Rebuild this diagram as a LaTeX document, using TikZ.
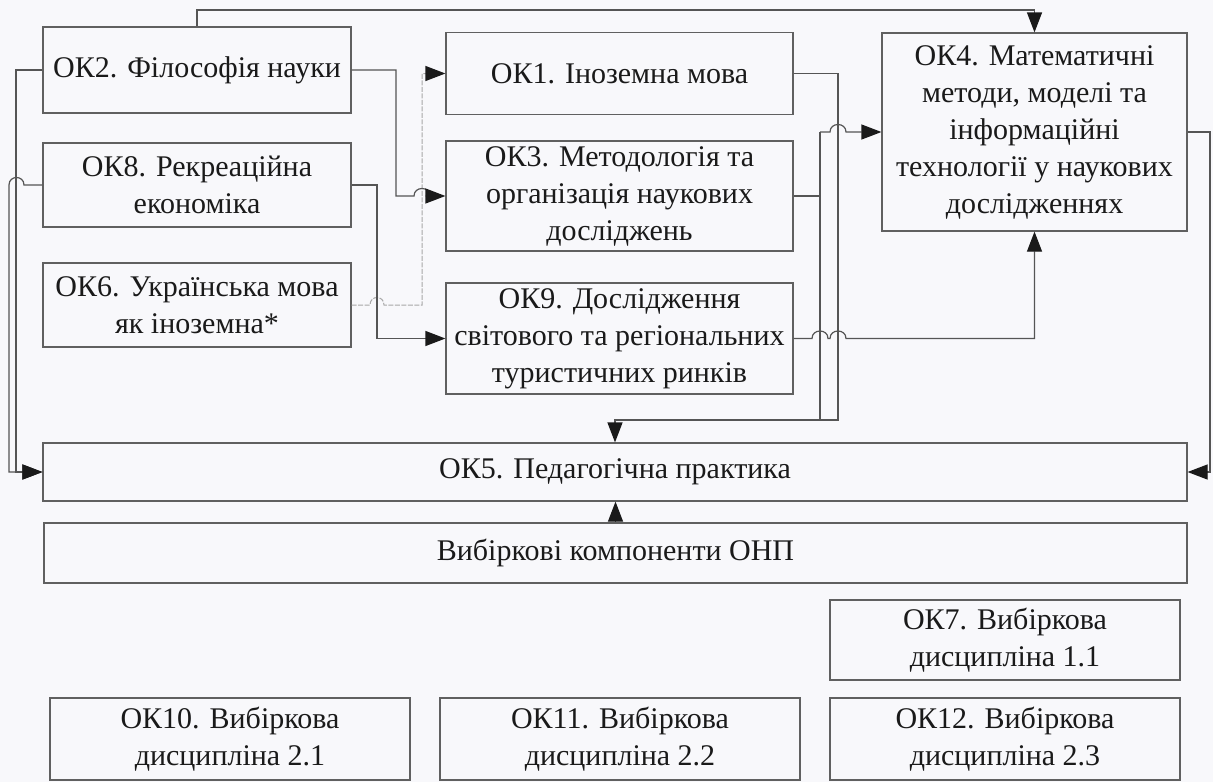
\documentclass[tikz,border=0pt]{standalone}
\usepackage{fontspec}
\setmainfont{Liberation Serif}
\usetikzlibrary{arrows.meta}
\definecolor{ln}{HTML}{555555}
\definecolor{bx}{HTML}{606060}
\definecolor{tx}{HTML}{1A1A1A}
\definecolor{bg}{HTML}{F8F8FB}
\definecolor{dl}{HTML}{A8A8A8}
\begin{document}
\begin{tikzpicture}[x=1pt,y=-1pt,
  box/.style={draw=bx, line width=1.2pt, align=center, inner sep=2pt, text=tx,
    font=\fontsize{30}{37}\selectfont},
  conn/.style={draw=ln, line width=1.2pt},
  arr/.style={-{Triangle[length=20pt,width=15pt,color=tx]}},
  dotl/.style={draw=dl, line width=1pt, dash pattern=on 5pt off 1.5pt}]
\fill[bg] (0,0) rectangle (1213,782);
\useasboundingbox (0,0) rectangle (1213,782);

% boxes
\node[box, minimum width=308pt, minimum height=86pt] (ok2) at (197,70) {ОК2. Філософія науки};
\node[box, minimum width=308pt, minimum height=84pt] (ok8) at (197,185) {ОК8. Рекреаційна\\економіка};
\node[box, minimum width=308pt, minimum height=84pt] (ok6) at (197,305) {ОК6. Українська мова\\як іноземна*};
\node[box, minimum width=347pt, minimum height=82pt] (ok1) at (619.5,73.5) {ОК1. Іноземна мова};
\node[box, minimum width=347pt, minimum height=110pt] (ok3) at (619.5,196) {ОК3. Методологія та\\організація наукових\\досліджень};
\node[box, minimum width=347pt, minimum height=111pt] (ok9) at (619.5,338.5) {ОК9. Дослідження\\світового та регіональних\\туристичних ринків};
\node[box, minimum width=305pt, minimum height=198pt] (ok4) at (1034.5,132) {ОК4. Математичні\\методи, моделі та\\інформаційні\\технології у наукових\\дослідженнях};
\node[box, minimum width=1144pt, minimum height=58pt] (ok5) at (615,472) {ОК5. Педагогічна практика};
\node[box, minimum width=1143pt, minimum height=60pt] (vk) at (615.5,553) {Вибіркові компоненти ОНП};
\node[box, minimum width=350pt, minimum height=80pt] (ok7) at (1005,640) {ОК7. Вибіркова\\дисципліна 1.1};
\node[box, minimum width=360pt, minimum height=82pt] (ok10) at (230,739) {ОК10. Вибіркова\\дисципліна 2.1};
\node[box, minimum width=360pt, minimum height=82pt] (ok11) at (620,739) {ОК11. Вибіркова\\дисципліна 2.2};
\node[box, minimum width=350pt, minimum height=82pt] (ok12) at (1005,739) {ОК12. Вибіркова\\дисципліна 2.3};

% top line OK2 -> OK4
\coordinate (top) at (0,10);
\draw[conn,arr] (ok2.north) -- (ok2.north |- top) -- (ok4.north |- top) -- (ok4.north);

% OK6 -> OK1 (light dashed)
\draw[dotl] (ok6.east) -- (370,305) .. controls (370,295) and (384,295) .. (384,305) -- (422,305) -- (422,73.5) -- (428,73.5);
\draw[conn,arr,draw=dl] (426,73.5) -- (ok1.west);

% OK2 -> OK3 (hop over dashed line)
\draw[conn,arr] (ok2.east) -- (396,70) -- (396,196) -- (414,196) .. controls (414,186) and (430,186) .. (430,196) -- (ok3.west);

% OK8 -> OK9
\draw[conn,arr] (ok8.east) -- (377,185) -- (377,338.5) -- (ok9.west);

% OK2, OK8 -> OK5 (left side)
\draw[conn,arr] (ok2.west) -- (16,70) -- (16,472) -- (ok5.west);
\draw[conn,arr] (ok8.west) -- (24,185) .. controls (24,175) and (9,175) .. (9,185) -- (9,472) -- (ok5.west);

% OK1 -> OK5
\draw[conn,arr] (ok1.east) -- (838,73.5) -- (838,420) -- (ok5.north |- 0,420) -- (ok5.north);

% OK3 -> OK4, OK5
\draw[conn] (ok3.east) -- (820,196);
\draw[conn] (820,132) -- (820,420) -- (838,420);
\draw[conn,arr] (820,132) -- (830,132) .. controls (830,122) and (846,122) .. (846,132) -- (ok4.west);

% OK9 -> OK4 (two hops)
\draw[conn,arr] (ok9.east) -- (812,338.5) .. controls (812,328.5) and (828,328.5) .. (828,338.5)
  -- (830,338.5) .. controls (830,328.5) and (846,328.5) .. (846,338.5)
  -- (ok4.south |- 0,338.5) -- (ok4.south);

% OK4 -> OK5 (right side)
\draw[conn,arr] (ok4.east) -- (1210,132) -- (1210,472) -- (ok5.east);

% VK -> OK5
\draw[conn,arr] (vk.north) -- (vk.north |- ok5.south);
\end{tikzpicture}
\end{document}
